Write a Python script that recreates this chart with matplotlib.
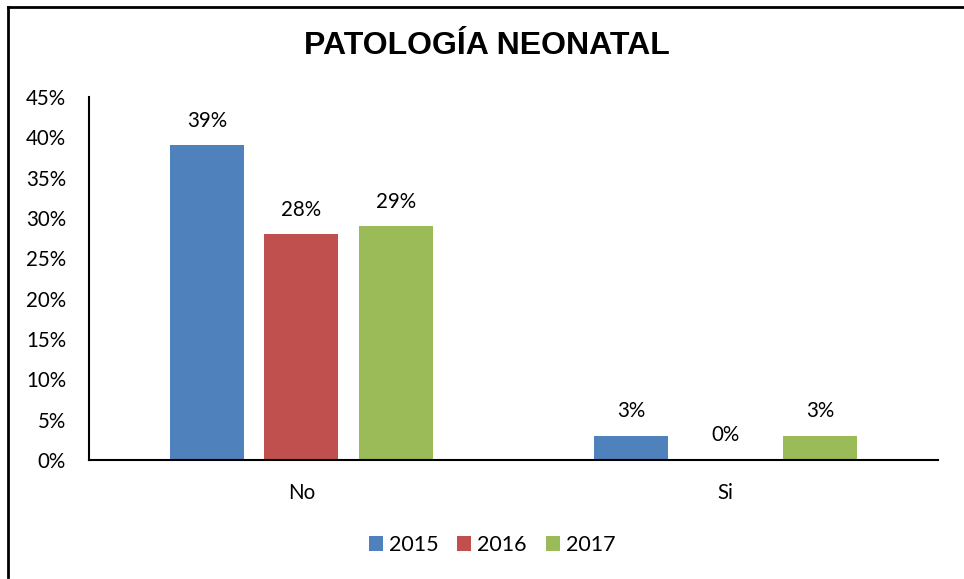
import matplotlib
matplotlib.use("Agg")
import matplotlib.pyplot as plt
from matplotlib.lines import Line2D
import numpy as np

categories = ["No", "Si"]
years = ["2015", "2016", "2017"]
values_2015 = [39, 3]
values_2016 = [28, 0]
values_2017 = [29, 3]
colors = ["#4F81BD", "#C0504D", "#9BBB59"]
yticks = [0, 5, 10, 15, 20, 25, 30, 35, 40, 45]

W, H = 964, 579
fig = plt.figure(figsize=(W / 100, H / 100), dpi=100)
ax = fig.add_axes([89 / W, 1 - 460 / H, (938 - 89) / W, (460 - 97) / H])

x = np.arange(len(categories))
width = 0.175
spacing = 0.2226
series = [values_2015, values_2016, values_2017]
lab_font = "Lato"
fs = 14.8
for i, (vals, yr, c) in enumerate(zip(series, years, colors)):
    pos = x + (i - 1) * spacing
    ax.bar(pos, vals, width=width, color=c, label=yr, zorder=2)
    for p, v in zip(pos, vals):
        ax.text(p, v + 1.8, f"{v}%", ha="center", va="bottom",
                fontsize=fs, family=lab_font, color="black")

ax.set_xlim(-0.5, 1.5)
ax.set_ylim(0, 45)
ax.set_yticks(yticks)
ax.set_yticklabels([f"{t}%" for t in yticks], fontsize=fs, family=lab_font)
ax.set_xticks(x)
ax.set_xticklabels(categories, fontsize=fs, family=lab_font)
ax.tick_params(axis="both", length=0)
ax.tick_params(axis="y", pad=16.5)
ax.tick_params(axis="x", pad=16.5)
for s in ["top", "right"]:
    ax.spines[s].set_visible(False)
for s in ["left", "bottom"]:
    ax.spines[s].set_linewidth(1.5)
    ax.spines[s].set_color("black")

fig.text(487 / W, 1 - 46 / H, "PATOLOGÍA NEONATAL", ha="center", va="center",
         fontsize=23, fontweight="bold", family="Liberation Sans")

leg = fig.legend(loc="center", bbox_to_anchor=(492 / W, 1 - 545 / H), ncol=3,
                 frameon=False, prop={"family": lab_font, "size": 15.5},
                 handlelength=0.65, handleheight=0.65, handletextpad=0.28,
                 columnspacing=0.88)

fig.add_artist(Line2D([8 / W, 1], [1 - 7 / H, 1 - 7 / H], color="black", lw=2,
                      transform=fig.transFigure))
fig.add_artist(Line2D([8 / W, 8 / W], [1 - 7 / H, 1 - 577 / H], color="black", lw=2,
                      transform=fig.transFigure))

fig.savefig("out.png", dpi=100, facecolor="white")
